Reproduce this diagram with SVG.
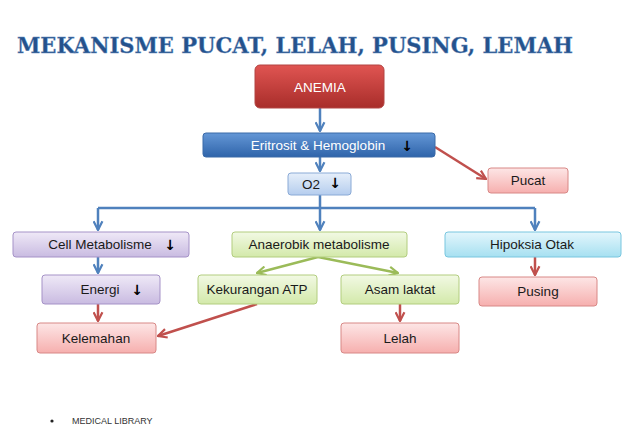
<svg xmlns="http://www.w3.org/2000/svg" width="626" height="432" viewBox="0 0 626 432">
<defs>
<linearGradient id="gRed" x1="0" y1="0" x2="0" y2="1"><stop offset="0" stop-color="#e05552"/><stop offset="1" stop-color="#a82d2a"/></linearGradient>
<linearGradient id="gBlue" x1="0" y1="0" x2="0" y2="1"><stop offset="0" stop-color="#6497d6"/><stop offset="1" stop-color="#2f64aa"/></linearGradient>
<linearGradient id="gLBlue" x1="0" y1="0" x2="0" y2="1"><stop offset="0" stop-color="#e6effa"/><stop offset="1" stop-color="#b5cdee"/></linearGradient>
<linearGradient id="gPink" x1="0" y1="0" x2="0" y2="1"><stop offset="0" stop-color="#fde6e6"/><stop offset="1" stop-color="#f6afae"/></linearGradient>
<linearGradient id="gPurple" x1="0" y1="0" x2="0" y2="1"><stop offset="0" stop-color="#efe9f7"/><stop offset="1" stop-color="#c9bbe1"/></linearGradient>
<linearGradient id="gGreen" x1="0" y1="0" x2="0" y2="1"><stop offset="0" stop-color="#f2f9e4"/><stop offset="1" stop-color="#d3e9aa"/></linearGradient>
<linearGradient id="gCyan" x1="0" y1="0" x2="0" y2="1"><stop offset="0" stop-color="#e4f6fc"/><stop offset="1" stop-color="#a6e0f1"/></linearGradient>
<marker id="aRed" viewBox="0 0 10 10" refX="9" refY="5" markerWidth="11" markerHeight="11" orient="auto" markerUnits="userSpaceOnUse"><path d="M1,1 L9,5 L1,9" fill="none" stroke="#c0504d" stroke-width="2"/></marker>
<marker id="aGreen" viewBox="0 0 10 10" refX="9" refY="5" markerWidth="11" markerHeight="11" orient="auto" markerUnits="userSpaceOnUse"><path d="M1,1 L9,5 L1,9" fill="none" stroke="#9bbb59" stroke-width="2"/></marker>
<marker id="aBlueL" viewBox="0 0 10 10" refX="9" refY="5" markerWidth="11" markerHeight="11" orient="auto" markerUnits="userSpaceOnUse"><path d="M1,1 L9,5 L1,9" fill="none" stroke="#4f81bd" stroke-width="2"/></marker>
</defs>
<style>
.t{font-family:"Liberation Sans","Noto Sans",sans-serif;font-size:13.5px;fill:#1a1a1a;text-anchor:middle;dominant-baseline:central}
.w{fill:#ffffff}
.cb{fill:none;stroke:#4f81bd;stroke-width:2.5}
.cr{fill:none;stroke:#c0504d;stroke-width:2.5}
.cg{fill:none;stroke:#9bbb59;stroke-width:2.5}
.dn{font-family:"DejaVu Sans",sans-serif;font-size:14px;font-weight:bold;fill:#000;text-anchor:middle;dominant-baseline:central}
.title{font-family:"DejaVu Serif",serif;font-weight:bold;font-size:22px;fill:#24528c;stroke:#6b8fc0;stroke-width:0.4px}
</style>
<rect width="626" height="432" fill="#ffffff"/>
<text class="title" x="17" y="53" textLength="556" lengthAdjust="spacingAndGlyphs">MEKANISME PUCAT, LELAH, PUSING, LEMAH</text>

<g id="connectors">
<path class="cb" d="M320,108 V131" marker-end="url(#aBlueL)"/>
<path class="cb" d="M320,157 V171" marker-end="url(#aBlueL)"/>
<path class="cr" d="M435,147 L486,179" marker-end="url(#aRed)"/>
<path class="cb" d="M320,195 V208 M98,208 H535"/>
<path class="cb" d="M98,208 V230" marker-end="url(#aBlueL)"/>
<path class="cb" d="M320,208 V230" marker-end="url(#aBlueL)"/>
<path class="cb" d="M535,208 V230" marker-end="url(#aBlueL)"/>
<path class="cb" d="M98,257 V273" marker-end="url(#aBlueL)"/>
<path class="cr" d="M98,304 V321" marker-end="url(#aRed)"/>
<path class="cg" d="M318,257 L257,273" marker-end="url(#aGreen)"/>
<path class="cg" d="M318,257 L398,273" marker-end="url(#aGreen)"/>
<path class="cr" d="M257,304 L158,336" marker-end="url(#aRed)"/>
<path class="cr" d="M400,304 V321" marker-end="url(#aRed)"/>
<path class="cr" d="M535,257 V275" marker-end="url(#aRed)"/>
</g>

<g id="anemia"><rect x="255" y="65" width="129" height="43" rx="5" fill="url(#gRed)" stroke="#b24542"/><text class="t w" x="320" y="87">ANEMIA</text></g>
<g id="eritrosit"><rect x="203" y="133" width="232" height="24" rx="3" fill="url(#gBlue)" stroke="#3a6aa8"/><text class="t w" x="318" y="145">Eritrosit &amp; Hemoglobin</text><text class="dn" x="407" y="146">↓</text></g>
<g id="o2"><rect x="288" y="173" width="63" height="22" rx="3" fill="url(#gLBlue)" stroke="#8aaad6"/><text class="t" x="311" y="184">O2</text><text class="dn" x="335" y="183">↓</text></g>
<g id="pucat"><rect x="488" y="168" width="80" height="25" rx="3" fill="url(#gPink)" stroke="#d88886"/><text class="t" x="528" y="180">Pucat</text></g>
<g id="cell"><rect x="13" y="232" width="176" height="25" rx="3" fill="url(#gPurple)" stroke="#a592c7"/><text class="t" x="100" y="244">Cell Metabolisme</text><text class="dn" x="170" y="245">↓</text></g>
<g id="anaerobik"><rect x="232" y="232" width="175" height="25" rx="3" fill="url(#gGreen)" stroke="#b2cd7f"/><text class="t" x="319" y="244">Anaerobik metabolisme</text></g>
<g id="hipoksia"><rect x="445" y="232" width="176" height="25" rx="3" fill="url(#gCyan)" stroke="#78c6df"/><text class="t" x="532" y="244">Hipoksia Otak</text></g>
<g id="energi"><rect x="42" y="275" width="118" height="29" rx="3" fill="url(#gPurple)" stroke="#a592c7"/><text class="t" x="100" y="289">Energi</text><text class="dn" x="137" y="290">↓</text></g>
<g id="kekurangan"><rect x="198" y="275" width="119" height="29" rx="3" fill="url(#gGreen)" stroke="#b2cd7f"/><text class="t" x="257" y="289">Kekurangan ATP</text></g>
<g id="asam"><rect x="341" y="275" width="118" height="29" rx="3" fill="url(#gGreen)" stroke="#b2cd7f"/><text class="t" x="400" y="289">Asam laktat</text></g>
<g id="pusing"><rect x="479" y="277" width="118" height="29" rx="3" fill="url(#gPink)" stroke="#d88886"/><text class="t" x="538" y="291">Pusing</text></g>
<g id="kelemahan"><rect x="37" y="323" width="119" height="30" rx="3" fill="url(#gPink)" stroke="#d88886"/><text class="t" x="96" y="338">Kelemahan</text></g>
<g id="lelah"><rect x="341" y="323" width="118" height="30" rx="3" fill="url(#gPink)" stroke="#d88886"/><text class="t" x="400" y="338">Lelah</text></g>

<circle cx="52" cy="421" r="1.6" fill="#222"/>
<text x="72" y="424" font-family="Liberation Sans, sans-serif" font-size="9" fill="#333">MEDICAL LIBRARY</text>
</svg>
